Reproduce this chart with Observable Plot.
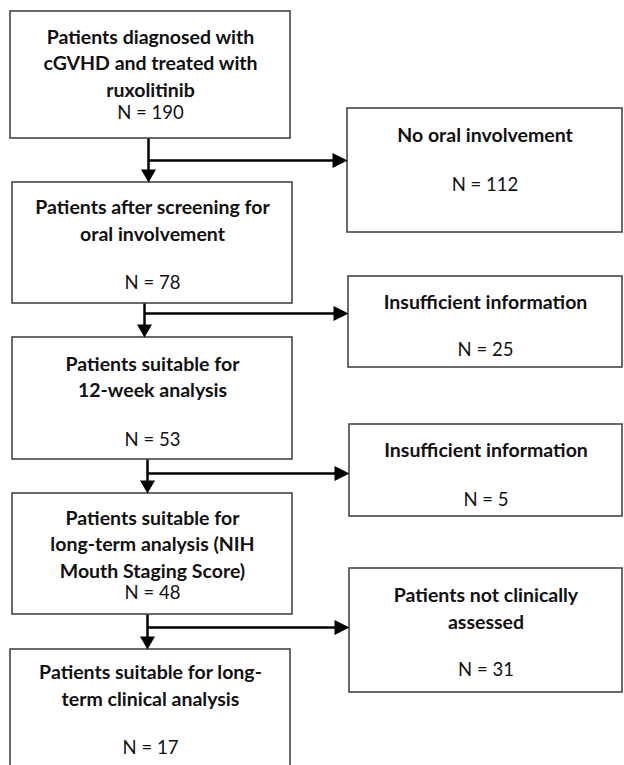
<!DOCTYPE html>
<html>
<head>
<meta charset="utf-8">
<script src="https://cdn.jsdelivr.net/npm/d3@7"></script>
<script src="https://cdn.jsdelivr.net/npm/@observablehq/plot@0.6"></script>
<style>
  html, body { margin: 0; padding: 0; background: #fff; }
  #chart svg { display: block; }
</style>
</head>
<body>
<div id="chart"></div>
<script>
// ---- Data: flow stages and exclusions ----
const stageLabels = [
  "Patients diagnosed with\ncGVHD and treated with\nruxolitinib",
  "Patients after screening for\noral involvement",
  "Patients suitable for\n12-week analysis",
  "Patients suitable for\nlong-term analysis (NIH\nMouth Staging Score)",
  "Patients suitable for long-\nterm clinical analysis"
];
const stageN = [190, 78, 53, 48, 17];
const exclusionLabels = [
  "No oral involvement",
  "Insufficient information",
  "Insufficient information",
  "Patients not clinically\nassessed"
];
const exclusionN = [112, 25, 5, 31];

// ---- Layout (page geometry of the diagram) ----
const leftBoxes = [
  {x1: 10, x2: 290, y1: 11, y2: 138, ty: 61.5, ny: 113},
  {x1: 12, x2: 292, y1: 182, y2: 303, ty: 218.5, ny: 283},
  {x1: 12, x2: 292, y1: 337, y2: 459, ty: 375, ny: 440},
  {x1: 12, x2: 292, y1: 493, y2: 614, ty: 542.5, ny: 593},
  {x1: 10, x2: 290, y1: 649, y2: 775, ty: 683.5, ny: 748}
];
const rightBoxes = [
  {x1: 347, x2: 622, y1: 108, y2: 232, ty: 133, ny: 185},
  {x1: 348, x2: 622, y1: 276, y2: 367, ty: 300, ny: 350},
  {x1: 349, x2: 622, y1: 424, y2: 516, ty: 448, ny: 500},
  {x1: 349, x2: 622, y1: 568, y2: 692, ty: 606.5, ny: 670}
];
const trunkX = [148, 144, 147, 147];
const branchY = [160, 313, 473, 627];

const stages = stageLabels.map((label, i) => ({label, n: `N = ${stageN[i]}`, ...leftBoxes[i], cx: (leftBoxes[i].x1 + leftBoxes[i].x2) / 2}));
const exclusions = exclusionLabels.map((label, i) => ({label, n: `N = ${exclusionN[i]}`, ...rightBoxes[i], cx: (rightBoxes[i].x1 + rightBoxes[i].x2) / 2}));

const connectors = trunkX.map((x, i) => ({
  x, top: leftBoxes[i].y2, bottom: leftBoxes[i + 1].y1, by: branchY[i], bx2: rightBoxes[i].x1
}));

const headLen = 13;
const triDown = {draw(ctx) { ctx.moveTo(-7.5, -headLen); ctx.lineTo(7.5, -headLen); ctx.lineTo(0, 0); ctx.closePath(); }};
const triRight = {draw(ctx) { ctx.moveTo(-15, -7.5); ctx.lineTo(-15, 7.5); ctx.lineTo(0, 0); ctx.closePath(); }};

const font = "Lato, 'Open Sans', sans-serif";
const ink = "#111";
const titleSize = 19.5;
const nSize = 18.5;
const lh = 26.5 / titleSize;

const chart = Plot.plot({
  width: 624,
  height: 765,
  margin: 0,
  x: {domain: [0, 624], range: [0, 624], axis: null},
  y: {domain: [0, 765], range: [0, 765], axis: null},
  style: {background: "#fff"},
  marks: [
    Plot.rect(stages, {x1: "x1", x2: "x2", y1: "y1", y2: "y2", fill: "#fff", stroke: "#3a3a3a", strokeWidth: 1.5}),
    Plot.rect(exclusions, {x1: "x1", x2: "x2", y1: "y1", y2: "y2", fill: "#fff", stroke: "#3a3a3a", strokeWidth: 1.5}),
    // vertical trunks
    Plot.link(connectors, {x1: "x", x2: "x", y1: "top", y2: d => d.bottom - headLen + 1, stroke: "#000", strokeWidth: 2.5}),
    Plot.dot(connectors, {x: "x", y: "bottom", symbol: triDown, fill: "#000", stroke: null}),
    // horizontal branches
    Plot.link(connectors, {x1: "x", x2: d => d.bx2 - 14, y1: "by", y2: "by", stroke: "#000", strokeWidth: 2.5}),
    Plot.dot(connectors, {x: "bx2", y: "by", symbol: triRight, fill: "#000", stroke: null}),
    // labels
    Plot.text(stages, {x: "cx", y: "ty", text: "label", fontFamily: font, fontWeight: "bold", fontSize: titleSize, lineHeight: lh, fill: ink}),
    Plot.text(stages, {x: "cx", y: "ny", text: "n", fontFamily: font, fontSize: nSize, fill: ink}),
    Plot.text(exclusions, {x: "cx", y: "ty", text: "label", fontFamily: font, fontWeight: "bold", fontSize: titleSize, lineHeight: lh, fill: ink}),
    Plot.text(exclusions, {x: "cx", y: "ny", text: "n", fontFamily: font, fontSize: nSize, fill: ink})
  ]
});
document.getElementById("chart").appendChild(chart);
</script>
</body>
</html>
